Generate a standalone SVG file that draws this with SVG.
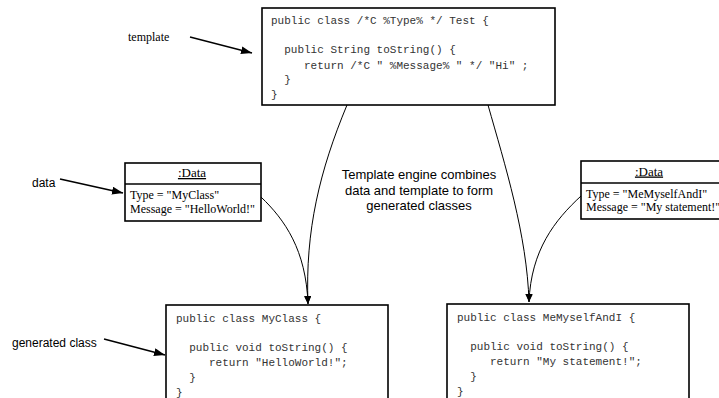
<svg xmlns="http://www.w3.org/2000/svg" width="719" height="398" viewBox="0 0 719 398">
<style>
.box{fill:#fff;stroke:#000;stroke-width:1.6}
.code{font-family:"Liberation Mono","Courier New",monospace;font-size:11px;fill:#333;white-space:pre}
.serif{font-family:"Liberation Serif","Times New Roman",serif;font-size:12px;fill:#000}
.ttl{font-family:"Liberation Serif","Times New Roman",serif;font-size:13px;fill:#000;text-anchor:middle;text-decoration:underline}
.sans{font-family:"Liberation Sans",Arial,sans-serif;font-size:12px;fill:#000}
.note{font-family:"Liberation Sans",Arial,sans-serif;font-size:13px;fill:#000;text-anchor:middle}
.lbl{stroke:#000;stroke-width:1.5;fill:none}
.cur{stroke:#000;stroke-width:1;fill:none}
</style>
<defs>
<marker id="ah" markerWidth="11" markerHeight="8" refX="11" refY="4" orient="auto" markerUnits="userSpaceOnUse"><path d="M0,0 L11,4 L0,8 z" fill="#000"/></marker>
<marker id="ah2" markerWidth="8" markerHeight="7" refX="8" refY="3.5" orient="auto" markerUnits="userSpaceOnUse"><path d="M0,0 L8,3.5 L0,7 z" fill="#000"/></marker>
</defs>
<g id="connectors">
<line class="lbl" x1="190" y1="37" x2="252" y2="53" marker-end="url(#ah)"/>
<line class="lbl" x1="60" y1="179" x2="123" y2="193" marker-end="url(#ah)"/>
<line class="lbl" x1="104" y1="339" x2="165" y2="355" marker-end="url(#ah)"/>
<path class="cur" d="M347,105 C320,170 305,230 308,304" marker-end="url(#ah2)"/>
<path class="cur" d="M261,197 C285,220 306,250 308,304" marker-end="url(#ah2)"/>
<path class="cur" d="M488,105 C505,165 527,235 529,302" marker-end="url(#ah2)"/>
<path class="cur" d="M581,196 C555,220 531,250 529,302" marker-end="url(#ah2)"/>
</g>
<g id="template">
<rect class="box" x="262" y="8" width="293" height="97"/>
<text class="code" x="271" y="24">public class /*C %Type% */ Test {</text>
<text class="code" x="271" y="53">  public String toString() {</text>
<text class="code" x="271" y="68.5">     return /*C " %Message% " */ "Hi" ;</text>
<text class="code" x="271" y="83">  }</text>
<text class="code" x="271" y="98">}</text>
</g>
<g id="label-template"><text class="serif" x="128" y="41">template</text></g>
<g id="label-data"><text class="sans" x="32" y="186.5">data</text></g>
<g id="label-generated"><text class="sans" x="12" y="347">generated class</text></g>
<g id="data1">
<rect class="box" x="125" y="163" width="136" height="58"/>
<line class="box" x1="125" y1="184" x2="261" y2="184"/>
<text class="ttl" x="192" y="177">:Data</text>
<text class="serif" x="130" y="199">Type = "MyClass"</text>
<text class="serif" x="130" y="212.5">Message = "HelloWorld!"</text>
</g>
<g id="data2">
<rect class="box" x="581" y="161" width="160" height="58"/>
<line class="box" x1="581" y1="183" x2="741" y2="183"/>
<text class="ttl" x="649" y="175.5">:Data</text>
<text class="serif" x="586" y="197.5">Type = "MeMyselfAndI"</text>
<text class="serif" x="586" y="211">Message = "My statement!"</text>
</g>
<g id="engine-note">
<text class="note" x="419" y="179">Template engine combines</text>
<text class="note" x="419" y="194.5">data and template to form</text>
<text class="note" x="419" y="210">generated classes</text>
</g>
<g id="myclass">
<rect class="box" x="166" y="305" width="222" height="110"/>
<text class="code" x="176" y="322">public class MyClass {</text>
<text class="code" x="176" y="351">  public void toString() {</text>
<text class="code" x="176" y="366">     return "HelloWorld!";</text>
<text class="code" x="176" y="381">  }</text>
<text class="code" x="176" y="396">}</text>
</g>
<g id="memyselfandi">
<rect class="box" x="447" y="304" width="242" height="110"/>
<text class="code" x="457" y="321">public class MeMyselfAndI {</text>
<text class="code" x="457" y="350">  public void toString() {</text>
<text class="code" x="457" y="365">     return "My statement!";</text>
<text class="code" x="457" y="380">  }</text>
<text class="code" x="457" y="395">}</text>
</g>
</svg>
